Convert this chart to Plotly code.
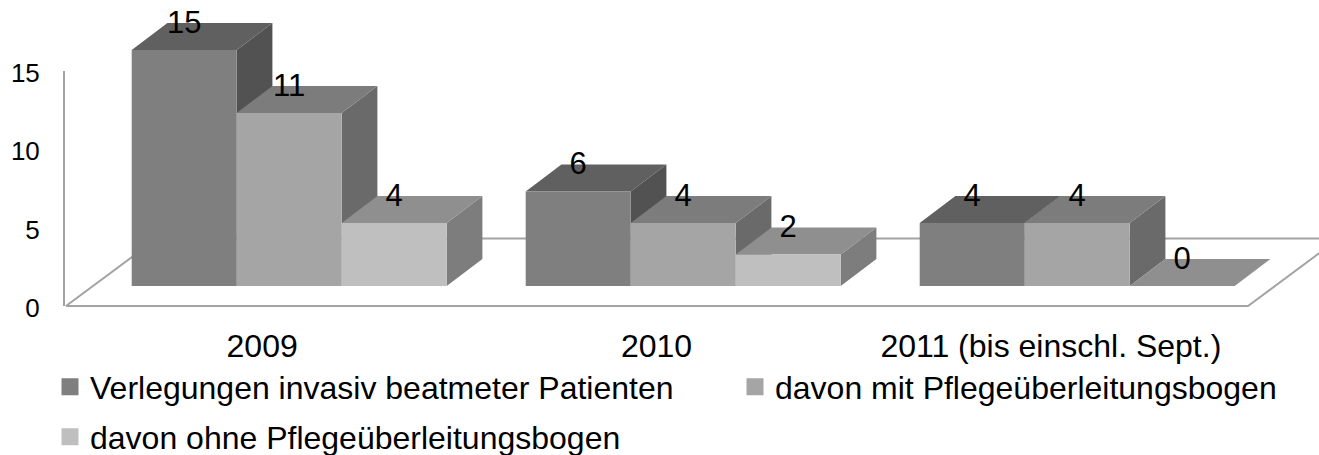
import plotly.graph_objects as go

categories = ["2009", "2010", "2011 (bis einschl. Sept.)"]
series_names = ["Verlegungen invasiv beatmeter Patienten",
                "davon mit Pflegeüberleitungsbogen",
                "davon ohne Pflegeüberleitungsbogen"]
verlegungen = [15, 6, 4]
mit_bogen = [11, 4, 4]
ohne_bogen = [4, 2, 0]
y_ticks = [0, 5, 10, 15]

front_colors = ["#7f7f7f", "#a5a5a5", "#bfbfbf"]
top_colors = ["#606060", "#7c7c7c", "#8f8f8f"]
side_colors = ["#525252", "#6a6a6a", "#7d7d7d"]
LINE = "#a3a3a3"
FONT = "Liberation Sans"

W, H = 1319, 455
PX_X = 394.0      # pixels per category
PX_Y = 15.73      # pixels per value unit
X0, Y0 = 131.7, 286.0
BW = 105.0 / PX_X
DX, DY = 35.7 / PX_X, 27.0 / PX_Y


def px_x(p):
    return (p - X0) / PX_X


def px_y(p):
    return (Y0 - p) / PX_Y


fig = go.Figure()

# floor and back wall lines
fig.add_trace(go.Scatter(
    x=[px_x(p) for p in [157, 66, 1248, 1339]] + [None, px_x(157), px_x(1339)],
    y=[px_y(p) for p in [238.5, 306, 306, 238.5]] + [None, px_y(238.5), px_y(238.5)],
    mode="lines", line=dict(color=LINE, width=2), hoverinfo="skip", showlegend=False,
))


def polygons(items):
    xs, ys = [], []
    for poly in items:
        xs += [p[0] for p in poly] + [poly[0][0], None]
        ys += [p[1] for p in poly] + [poly[0][1], None]
    return xs, ys


def add_poly(items, color):
    xs, ys = polygons(items)
    fig.add_trace(go.Scatter(x=xs, y=ys, mode="lines", fill="toself", fillcolor=color,
                             line=dict(width=0, color=color), hoverinfo="skip",
                             showlegend=False))


label_x, label_y, label_t = [], [], []
for s, values in enumerate([verlegungen, mit_bogen, ohne_bogen]):
    sides, tops, fronts = [], [], []
    for g, v in enumerate(values):
        l = g + s * BW
        r = l + BW
        if v > 0:
            sides.append([(r, 0), (r + DX, DY), (r + DX, v + DY), (r, v)])
            fronts.append([(l, 0), (r, 0), (r, v), (l, v)])
        tops.append([(l, v), (r, v), (r + DX, v + DY), (l + DX, v + DY)])
        label_x.append((l + r) / 2)
        label_y.append(v + 25 / PX_Y)
        label_t.append(str(v))
    add_poly(sides, side_colors[s])
    add_poly(tops, top_colors[s])
    if fronts:
        add_poly(fronts, front_colors[s])

fig.add_trace(go.Scatter(x=label_x, y=label_y, text=label_t, mode="text",
                         textposition="middle center",
                         textfont=dict(family=FONT, size=31, color="#000000"),
                         hoverinfo="skip", showlegend=False))

# legend entries, one legend box per placed entry
legend_ids = ["legend", "legend2", "legend3"]
for s, name in enumerate(series_names):
    fig.add_trace(go.Bar(x=[None], y=[None], name=name,
                         marker=dict(color=front_colors[s],
                                     line=dict(color=front_colors[s], width=5)),
                         legend=legend_ids[s]))

# real axes: category axis and value axis
fig.add_trace(go.Scatter(x=categories, y=[0, 0, 0], xaxis="x2", yaxis="y2", mode="markers",
                         marker=dict(opacity=0), hoverinfo="skip", showlegend=False))

legend_common = dict(orientation="h", xanchor="left", yanchor="middle",
                     bgcolor="rgba(0,0,0,0)",
                     font=dict(family=FONT, size=32, color="#000000"),
                     itemclick=False, itemdoubleclick=False)

fig.update_layout(
    width=W, height=H, autosize=False,
    margin=dict(l=0, r=0, t=0, b=0, pad=0, autoexpand=False),
    paper_bgcolor="white", plot_bgcolor="rgba(0,0,0,0)",
    font=dict(family=FONT, color="#000000"),
    xaxis=dict(range=[px_x(0), px_x(W)], visible=False, domain=[0, 1], fixedrange=True),
    yaxis=dict(range=[px_y(H), px_y(0)], visible=False, domain=[0, 1], fixedrange=True),
    xaxis2=dict(type="category", categoryorder="array", categoryarray=categories,
                domain=[65 / W, 1248 / W], anchor="y2", showline=False, showgrid=False,
                ticks="", ticklabelstandoff=18, range=[-0.5, 2.5],
                tickfont=dict(family=FONT, size=32, color="#000000")),
    yaxis2=dict(domain=[(H - 306) / H, (H - 71) / H], range=[0, 15], anchor="x2",
                tickmode="array", tickvals=y_ticks, showgrid=False, zeroline=False,
                showline=True, linecolor=LINE, linewidth=2, ticks="",
                ticklabelstandoff=18, ticklabelshift=2,
                tickfont=dict(family=FONT, size=26, color="#000000")),
    legend=dict(x=50 / W, y=1 - 387 / H, **legend_common),
    legend2=dict(x=735 / W, y=1 - 387 / H, **legend_common),
    legend3=dict(x=50 / W, y=1 - 437 / H, **legend_common),
    showlegend=True,
)

fig.write_html("out.html", config={"displayModeBar": False},
               post_script="document.body.style.margin='0';")
